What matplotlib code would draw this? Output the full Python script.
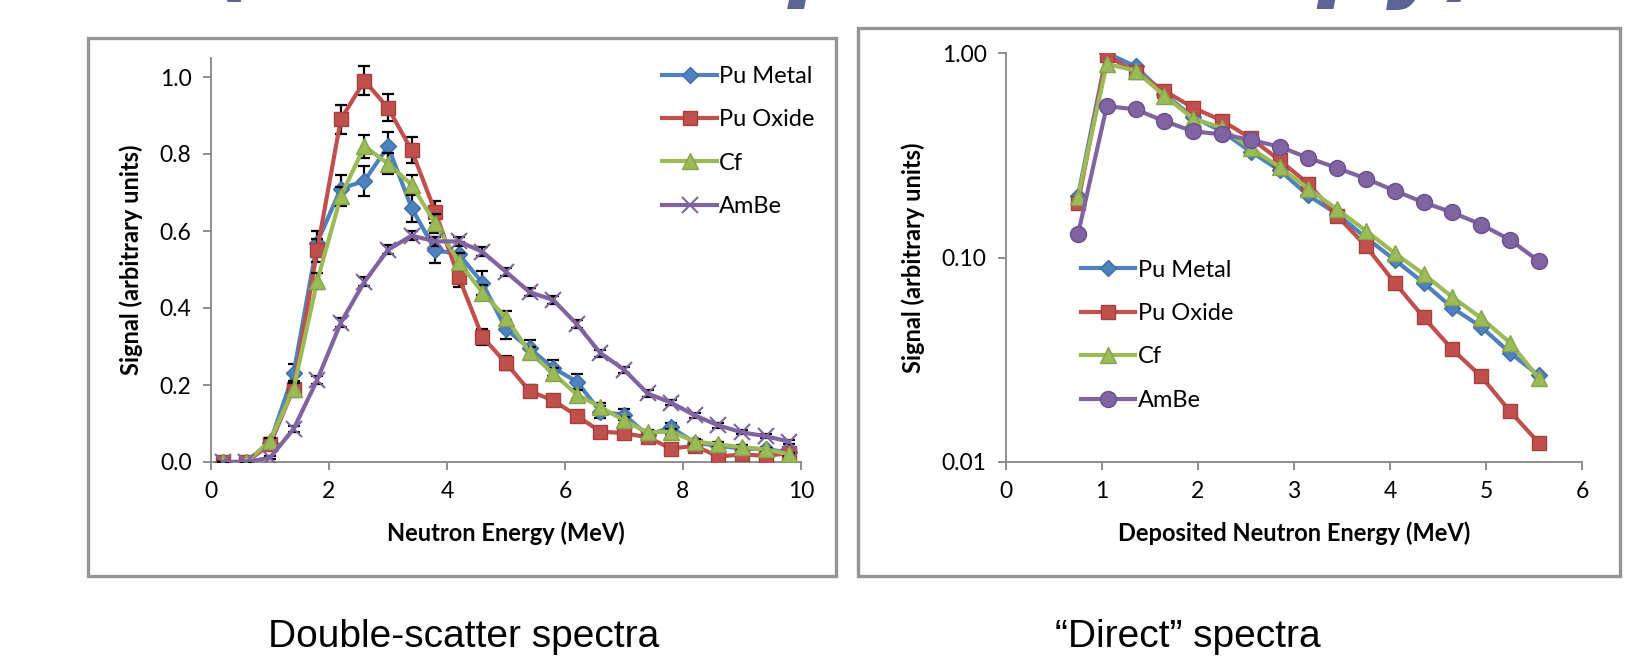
import numpy as np
import matplotlib.pyplot as plt
from matplotlib.patches import Rectangle

# double-scatter spectra (left)
ds_energy = [0.2, 0.6, 1.0, 1.4, 1.8, 2.2, 2.6, 3.0, 3.4, 3.8, 4.2, 4.6, 5.0,
             5.4, 5.8, 6.2, 6.6, 7.0, 7.4, 7.8, 8.2, 8.6, 9.0, 9.4, 9.8]
ds_pu_metal = [0.0, 0.0, 0.05, 0.23, 0.57, 0.71, 0.73, 0.82, 0.66, 0.55, 0.54, 0.465, 0.345,
               0.295, 0.244, 0.209, 0.13, 0.123, 0.07, 0.09, 0.05, 0.042, 0.035, 0.033, 0.025]
ds_pu_oxide = [0.0, 0.0, 0.046, 0.19, 0.55, 0.89, 0.99, 0.92, 0.81, 0.65, 0.48, 0.325, 0.257,
               0.184, 0.16, 0.12, 0.079, 0.075, 0.064, 0.035, 0.042, 0.014, 0.02, 0.016, 0.023]
ds_cf = [0.0, 0.0, 0.055, 0.19, 0.47, 0.69, 0.82, 0.775, 0.72, 0.62, 0.52, 0.44, 0.375,
         0.285, 0.23, 0.175, 0.143, 0.108, 0.077, 0.079, 0.053, 0.046, 0.038, 0.033, 0.02]
ds_ambe = [0.0, 0.0, 0.011, 0.086, 0.213, 0.362, 0.468, 0.551, 0.588, 0.573, 0.573, 0.546, 0.494,
           0.441, 0.421, 0.358, 0.283, 0.24, 0.178, 0.154, 0.121, 0.095, 0.077, 0.067, 0.053]
err_pu_metal = [0.0, 0.0, 0.01, 0.025, 0.03, 0.035, 0.038, 0.038, 0.036, 0.034, 0.032, 0.03, 0.025,
                0.022, 0.02, 0.02, 0.015, 0.015, 0.01, 0.012, 0.008, 0.008, 0.006, 0.006, 0.005]
err_pu_oxide = [0.0, 0.0, 0.01, 0.02, 0.03, 0.037, 0.038, 0.035, 0.034, 0.028, 0.025, 0.02, 0.018,
                0.015, 0.014, 0.012, 0.01, 0.01, 0.008, 0.007, 0.007, 0.005, 0.005, 0.005, 0.005]
err_cf = [0.0, 0.0, 0.008, 0.015, 0.02, 0.025, 0.03, 0.028, 0.026, 0.024, 0.022, 0.02, 0.018,
          0.015, 0.013, 0.012, 0.01, 0.008, 0.007, 0.007, 0.006, 0.005, 0.005, 0.004, 0.004]
err_ambe = [0.0, 0.0, 0.004, 0.008, 0.01, 0.012, 0.012, 0.012, 0.012, 0.012, 0.012, 0.012, 0.011,
            0.011, 0.01, 0.01, 0.009, 0.008, 0.008, 0.007, 0.006, 0.006, 0.005, 0.005, 0.005]

# direct spectra (right)
dir_energy = [0.75, 1.05, 1.35, 1.65, 1.95, 2.25, 2.55, 2.85, 3.15,
              3.45, 3.75, 4.05, 4.35, 4.65, 4.95, 5.25, 5.55]
dir_pu_metal = [0.20, 1.0, 0.859, 0.629, 0.485, 0.414, 0.329, 0.267, 0.201,
                0.163, 0.125, 0.0973, 0.0752, 0.0567, 0.0458, 0.0342, 0.0265]
dir_pu_oxide = [0.185, 0.974, 0.805, 0.653, 0.540, 0.467, 0.383, 0.299, 0.229,
                0.160, 0.1135, 0.0752, 0.051, 0.0355, 0.0262, 0.0177, 0.0124]
dir_cf = [0.197, 0.885, 0.82, 0.617, 0.478, 0.43, 0.342, 0.277, 0.217,
          0.172, 0.135, 0.105, 0.083, 0.064, 0.0506, 0.0383, 0.0257]
dir_ambe = [0.130, 0.55, 0.53, 0.464, 0.414, 0.40, 0.376, 0.348, 0.307,
            0.274, 0.243, 0.212, 0.186, 0.166, 0.145, 0.122, 0.096]

names = ["Pu Metal", "Pu Oxide", "Cf", "AmBe"]
colors = ["#4F81BD", "#C0504D", "#9BBB59", "#8064A2"]
edges = ["#3C6DA8", "#A5403D", "#86A44A", "#6B4F8E"]

FONT = "Lato"
GRID = "#868686"

fig = plt.figure(figsize=(16.31, 6.64), dpi=100)
W, H = 1631.0, 664.0

def px_box(x0, y0, x1, y1):
    # pixel box (top-left origin) -> figure fraction rect
    return [x0 / W, 1 - y1 / H, (x1 - x0) / W, (y1 - y0) / H]

# slide boxes around each chart
for (x0, y0, x1, y1) in [(88, 38, 836, 576), (858, 28, 1620, 576)]:
    r = px_box(x0, y0, x1, y1)
    fig.patches.append(Rectangle((r[0], r[1]), r[2], r[3], transform=fig.transFigure,
                                 fill=False, edgecolor="#959595", lw=2.4, zorder=0))

def style_axes(ax):
    for s in ["top", "right"]:
        ax.spines[s].set_visible(False)
    for s in ["left", "bottom"]:
        ax.spines[s].set_color(GRID)
        ax.spines[s].set_linewidth(1.3)
    ax.tick_params(axis="both", which="major", direction="out", color=GRID,
                   length=6, width=1.3, labelsize=16.5, pad=8)
    ax.tick_params(axis="both", which="minor", length=0)
    for lab in ax.get_xticklabels() + ax.get_yticklabels():
        lab.set_fontfamily(FONT)

# left: double-scatter
ax1 = fig.add_axes(px_box(211, 57.75, 801, 462))
markers1 = ["D", "s", "^", "x"]
msizes1 = [8, 10.5, 11, 11]
series1 = [ds_pu_metal, ds_pu_oxide, ds_cf, ds_ambe]
errs1 = [err_pu_metal, err_pu_oxide, err_cf, err_ambe]
for i in range(4):
    ax1.errorbar(ds_energy, series1[i], yerr=errs1[i], fmt="none", ecolor="black",
                 elinewidth=1.6, capsize=4, capthick=1.6, zorder=2 + i)
    ax1.plot(ds_energy, series1[i], color=colors[i], lw=3, marker=markers1[i],
             ms=msizes1[i], mfc=colors[i], mec=colors[i] if i == 3 else edges[i],
             mew=1.5 if i == 3 else 1.0, label=names[i], zorder=3 + i)
ax1.set_xlim(0, 10)
ax1.set_ylim(0, 1.05)
ax1.set_xticks(np.arange(0, 11, 2))
ax1.set_yticks(np.arange(0, 1.01, 0.2))
ax1.set_yticklabels(["%.1f" % v for v in np.arange(0, 1.01, 0.2)])
style_axes(ax1)
ax1.set_xlabel("Neutron Energy (MeV)", fontsize=17, fontweight="bold", family=FONT, labelpad=14)
ax1.set_ylabel("Signal (arbitrary units)", fontsize=17, fontweight="bold", family=FONT, labelpad=12)
leg1 = ax1.legend(loc="upper left", bbox_to_anchor=(0.765, 0.98), frameon=False,
                  prop={"family": FONT, "size": 17}, handlelength=2.3, handletextpad=0.1,
                  labelspacing=0.95, borderpad=0, borderaxespad=0)

# right: direct
ax2 = fig.add_axes(px_box(1006, 53, 1582, 462))
markers2 = ["D", "s", "^", "o"]
msizes2 = [8, 10.5, 11, 11.5]
series2 = [dir_pu_metal, dir_pu_oxide, dir_cf, dir_ambe]
for i in range(4):
    ax2.plot(dir_energy, series2[i], color=colors[i], lw=3, marker=markers2[i],
             ms=msizes2[i], mfc=colors[i], mec=edges[i], mew=1.0, label=names[i], zorder=3 + i)
ax2.set_yscale("log")
ax2.set_xlim(0, 6)
ax2.set_ylim(0.01, 1.0)
ax2.set_xticks(range(0, 7))
ax2.set_yticks([0.01, 0.1, 1.0])
ax2.set_yticklabels(["0.01", "0.10", "1.00"])
style_axes(ax2)
ax2.set_xlabel("Deposited Neutron Energy (MeV)", fontsize=17, fontweight="bold", family=FONT, labelpad=14)
ax2.set_ylabel("Signal (arbitrary units)", fontsize=17, fontweight="bold", family=FONT, labelpad=12)
leg2 = ax2.legend(loc="upper left", bbox_to_anchor=(0.13, 0.495), frameon=False,
                  prop={"family": FONT, "size": 17}, handlelength=2.3, handletextpad=0.1,
                  labelspacing=0.95, borderpad=0, borderaxespad=0)

# captions under the charts
fig.text(464 / W, 1 - 647 / H, "Double-scatter spectra", ha="center", va="baseline",
         fontsize=28, family="Liberation Sans")
fig.text(1188 / W, 1 - 647 / H, "\u201cDirect\u201d spectra", ha="center", va="baseline",
         fontsize=28, family="Liberation Sans")

# slide title, mostly cut off by the top edge
fig.text(213 / W, 1 + 11 / H, "(Neutron spectroscopy)", ha="left", va="baseline",
         fontsize=69, fontweight="bold", fontstyle="italic", family="DejaVu Sans",
         color="#5B6494")

fig.savefig("out.png", dpi=100)
